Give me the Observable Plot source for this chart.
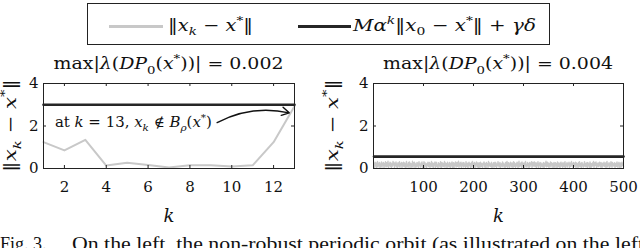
<!DOCTYPE html>
<html>
<head>
<meta charset="utf-8">
<script src="https://cdn.jsdelivr.net/npm/d3@7"></script>
<script src="https://cdn.jsdelivr.net/npm/@observablehq/plot@0.6"></script>
<style>
  body { margin: 0; background: #fff; }
  #wrap { position: relative; width: 640px; height: 248px; overflow: hidden; font-family: "DejaVu Serif", serif; color: #111; }
  #legend { position: absolute; left: 87px; top: 3px; width: 461px; height: 40px; border: 1.5px solid #222; box-sizing: content-box; }
  #legend .ln { position: absolute; top: 21px; height: 3px; }
  #legend .tx { position: absolute; top: 9px; font-size: 17px; line-height: 24px; white-space: nowrap; display: inline-block; transform-origin: left center; }
  #legend sub, #legend sup { font-size: 0.7em; line-height: 0; }
  #p1, #p2 { position: absolute; top: 46px; }
  #p1 { left: 0; } #p2 { left: 320px; }
  #cap { position: absolute; left: 0; top: 233px; font-family: "Liberation Serif", serif; font-size: 18px; line-height: 22px; white-space: nowrap; width: 700px; }
  #cap span { position: absolute; top: 0; display: inline-block; transform-origin: left center; }
</style>
</head>
<body>
<div id="wrap">
  <div id="legend">
    <div class="ln" style="left:21px;width:54px;background:#c8c8c8"></div>
    <span class="tx" id="lg1" style="left:80px">‖<i>x</i><sub><i>k</i></sub> − <i>x</i><sup>*</sup>‖</span>
    <div class="ln" style="left:210px;width:53px;background:#262626"></div>
    <span class="tx" id="lg2" style="left:265px"><i>M</i><i>α</i><sup><i>k</i></sup>‖<i>x</i><sub>0</sub> − <i>x</i><sup>*</sup>‖ + <i>γδ</i></span>
  </div>
  <div id="p1"></div>
  <div id="p2"></div>
  <div id="cap"><span style="left:0">Fig. 3.</span><span id="capText" style="left:72px">On the left, the non-robust periodic orbit (as illustrated on the left</span></div>
</div>
<script>
// ---------- data ----------
const kLeft = [1, 2, 3, 4, 5, 6, 7, 8, 9, 10, 11, 12, 13];
const errLeft = [1.24, 0.85, 1.35, 0.14, 0.27, 0.17, 0.05, 0.15, 0.15, 0.09, 0.15, 1.24, 2.93];
const boundLeft = [3, 3, 3, 3, 3, 3, 3, 3, 3, 3, 3, 3, 3];
const ticksLeft = [2, 4, 6, 8, 10, 12];

const errRight = [
.21,.05,.30,.12,.26,.03,.18,.33,.08,.24,.14,.29,.02,.20,.11,.31,.06,.25,.16,.28,
.04,.22,.13,.32,.07,.27,.10,.19,.34,.01,.23,.15,.30,.09,.26,.05,.21,.12,.33,.17,
.28,.03,.24,.14,.31,.08,.20,.02,.27,.16,.11,.32,.06,.22,.18,.29,.04,.25,.13,.30,
.09,.26,.17,.01,.23,.33,.07,.19,.12,.28,.05,.31,.15,.24,.02,.21,.10,.34,.06,.27,
.14,.30,.03,.22,.18,.08,.29,.11,.25,.04,.32,.16,.20,.07,.26,.13,.31,.01,.23,.17,
.32,.06,.27,.12,.20,.02,.24,.15,.30,.09,.18,.28,.05,.22,.11,.33,.08,.26,.14,.03,
.25,.16,.31,.04,.21,.29,.10,.17,.02,.27,.13,.23,.07,.32,.19,.01,.28,.12,.24,.09,
.18,.33,.06,.26,.14,.22,.03,.30,.11,.20,.08,.29,.16,.04,.25,.13,.31,.05,.21,.27,
.02,.24,.15,.31,.07,.19,.28,.10,.23,.34,.06,.17,.26,.12,.30,.03,.22,.14,.29,.08,
.27,.11,.20,.05,.32,.16,.09,.25,.01,.21,.30,.13,.24,.04,.18,.28,.07,.33,.15,.22,
.13,.29,.04,.23,.17,.31,.08,.26,.12,.02,.27,.19,.06,.30,.10,.24,.16,.03,.25,.20,
.31,.07,.25,.14,.01,.28,.18,.22,.05,.33,.11,.26,.15,.09,.21,.29,.02,.19,.12,.27,
.06,.23,.30,.10,.26,.04,.20,.13,.32,.17,.08,.24,.28,.03,.16,.22,.11,.31,.07,.25,
.20,.14,.02,.29,.09,.24,.33,.06,.18,.27,.12,.01,.23,.30,.15,.08,.26,.19,.04,.32,
.10,.28,.17,.05,.22,.12,.30,.25,.03,.19,.34,.09,.21,.14,.27,.06,.31,.13,.24,.02,
.26,.04,.21,.33,.11,.18,.07,.29,.15,.23,.02,.28,.10,.25,.19,.32,.05,.17,.30,.12,
.15,.31,.09,.20,.27,.03,.24,.14,.32,.06,.22,.16,.29,.01,.26,.11,.20,.08,.23,.28,
.03,.19,.26,.12,.34,.08,.17,.30,.10,.25,.05,.21,.13,.31,.07,.27,.18,.24,.02,.16,
.29,.12,.05,.27,.16,.22,.01,.31,.19,.09,.26,.14,.03,.24,.30,.11,.21,.06,.28,.17,
.08,.25,.32,.02,.20,.13,.28,.07,.23,.17,.30,.04,.19,.26,.10,.33,.15,.22,.05,.29,
.22,.10,.18,.30,.05,.26,.14,.21,.03,.28,.12,.32,.08,.16,.25,.02,.29,.13,.20,.07,
.17,.32,.11,.24,.08,.19,.29,.04,.27,.13,.21,.06,.31,.18,.02,.23,.10,.26,.15,.33,
.05,.21,.28,.15,.31,.01,.22,.12,.26,.09,.18,.30,.14,.07,.28,.20,.04,.25,.11,.19,
.30,.09,.16,.26,.03,.23,.33,.08,.20,.14,.27,.02,.24,.11,.32,.17,.06,.29,.13,.21,
.12,.27,.04,.19,.25,.10,.31,.16,.06,.22,.29,.13,.01,.26,.18,.08,.30,.15,.23,.10
];
const kRight = errRight.map((_, i) => i + 1);
const boundRightK = [1, 500];
const boundRightV = [0.56, 0.56];
const ticksRight = [100, 200, 300, 400, 500];
const yTicks = [0, 2, 4];
const yInnerTicks = [2];

const annotation = [{x1: 9.3, y1: 2.16, x2: 12.75, y2: 2.62}];
const annotationText = {x: 1.57, y: 2.16};

const FONT = "DejaVu Serif, serif";
const GRAY = "#c8c8c8", DARK = "#262626";

// ---------- rich text helper ----------
function rich(g, parts, size) {
  let shift = 0;
  for (const p of parts) {
    const target = p.sub ? size * 0.3 : p.sup ? -size * 0.42 : 0;
    const ts = g.append("tspan").text(p.t);
    if (p.i) ts.attr("font-style", "italic");
    if (p.sub || p.sup) ts.attr("font-size", size * 0.7);
    if (target !== shift) { ts.attr("dy", target - shift); shift = target; }
  }
  return g;
}
const I = t => ({t, i: true});
const N = t => ({t});
const SUB = (t, i) => ({t, sub: true, i});
const SUP = (t, i) => ({t, sup: true, i});
const normParts = [N("‖"), I("x"), SUB("k", true), N(" − "), I("x"), SUP("*"), N("‖")];
const titleParts = v => [N("max|"), I("λ"), N("("), I("DP"), SUB("0"), N("("), I("x"), SUP("*"), N("))| = " + v)];

function panel(opts) {
  const {k, err, bk, bv, domain, ticks, ml, mr, errWidth, title, ylabX} = opts;
  const H = 85;
  const plot = Plot.plot({
    width: 320, height: 192,
    marginTop: 37, marginBottom: 70, marginLeft: ml, marginRight: mr,
    style: {fontFamily: FONT, fontSize: "15px", color: "#111", background: "transparent"},
    x: {domain, label: null},
    y: {domain: [0, 4], label: null},
    marks: [
      Plot.line(k, {x: d => d, y: (d, i) => err[i], stroke: GRAY, strokeWidth: errWidth}),
      Plot.line(bk, {x: d => d, y: (d, i) => bv[i], stroke: DARK, strokeWidth: 2.6}),
      Plot.tickX(ticks, {x: d => d, insetTop: H - 3, stroke: "#222"}),
      Plot.tickX(ticks, {x: d => d, insetBottom: H - 3, stroke: "#222"}),
      Plot.tickY(yInnerTicks, {y: d => d, insetLeft: 320 - ml - mr - 3, stroke: "#222"}),
      Plot.tickY(yInnerTicks, {y: d => d, insetRight: 320 - ml - mr - 3, stroke: "#222"}),
      Plot.frame({stroke: "#222", strokeWidth: 1}),
      Plot.axisX(ticks, {tickSize: 0, tickPadding: 13, label: null}),
      Plot.axisY(yTicks, {tickSize: 0, tickPadding: 5, label: null}),
      Plot.text(["k"], {frameAnchor: "bottom", dy: 53, fontStyle: "italic", fontSize: 18}),
      ...(opts.extra || [])
    ]
  });
  const svg = d3.select(plot);
  const cx = ml + (320 - ml - mr) / 2;
  rich(svg.append("text").attr("x", cx).attr("y", 23).attr("text-anchor", "middle")
    .attr("font-size", 17).attr("font-family", FONT).attr("fill", "#111")
    .attr("textLength", 230).attr("lengthAdjust", "spacingAndGlyphs"), titleParts(title), 17);
  rich(svg.append("text").attr("transform", `translate(${ylabX},${37 + H / 2}) rotate(-90)`)
    .attr("text-anchor", "middle").attr("font-size", 17).attr("font-family", FONT).attr("fill", "#111")
    .attr("textLength", 93).attr("lengthAdjust", "spacingAndGlyphs"), normParts, 17);
  return plot;
}

const p1 = panel({
  k: kLeft, err: errLeft, bk: kLeft, bv: boundLeft, domain: [1, 13], ticks: ticksLeft,
  ml: 43, mr: 26, errWidth: 2, title: "0.002", ylabX: 15.5,
  extra: [
    Plot.arrow(annotation, {x1: "x1", y1: "y1", x2: "x2", y2: "y2", bend: 20, headLength: 9, stroke: "#111", strokeWidth: 1.4})
  ]
});
{
  const sx = p1.scale("x"), sy = p1.scale("y");
  const t = d3.select(p1).append("text")
    .attr("x", sx.apply(annotationText.x)).attr("y", sy.apply(annotationText.y))
    .attr("text-anchor", "start").attr("dy", "0.35em")
    .attr("font-size", 14).attr("font-family", FONT).attr("fill", "#111")
    .attr("textLength", 157).attr("lengthAdjust", "spacingAndGlyphs");
  rich(t, [N("at "), I("k"), N(" = 13, "), I("x"), SUB("k", true), N(" ∉ "), I("B"), SUB("ρ", true), N("("), I("x"), SUP("*"), N(")")], 14);
}
document.getElementById("p1").appendChild(p1);

const p2 = panel({
  k: kRight, err: errRight, bk: boundRightK, bv: boundRightV, domain: [0, 500], ticks: ticksRight,
  ml: 53, mr: 17, errWidth: 1.4, title: "0.004", ylabX: 17.5
});
document.getElementById("p2").appendChild(p2);

// stretch HTML texts to the reference widths
function fitWidth(id, target) {
  const el = document.getElementById(id);
  const w = el.getBoundingClientRect().width;
  if (w > 0) el.style.transform = `scaleX(${target / w})`;
}
fitWidth("lg1", 85);
fitWidth("lg2", 183);
fitWidth("capText", 572);
</script>
</body>
</html>
